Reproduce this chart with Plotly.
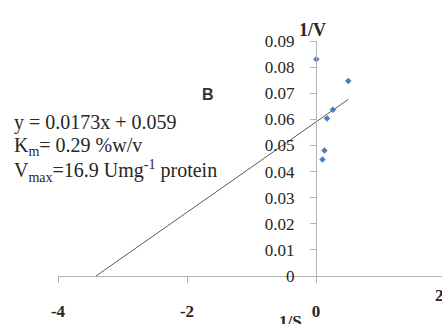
import plotly.graph_objects as go

# ---- data ----
inv_s = [0.005, 0.10, 0.13, 0.17, 0.26, 0.50]          # 1/S
inv_v = [0.083, 0.0446, 0.0481, 0.0603, 0.0637, 0.0747]  # 1/V
slope = 0.0173
intercept = 0.059
x_ticks = [-4, -2, 0, 2]
x_tick_text = ["-4", "-2", "0", "2"]
y_ticks = [0, 0.01, 0.02, 0.03, 0.04, 0.05, 0.06, 0.07, 0.08, 0.09]
eq_lines = [
    "y = 0.0173x + 0.059",
    "K<sub>m</sub>= 0.29 %w/v",
    "V<sub>max</sub>=16.9 Umg<sup>-1</sup> protein",
]

# trendline from the x-intercept to the last point
x0 = -intercept / slope
x1 = max(inv_s)
trend_x = [x0, x1]
trend_y = [slope * x + intercept for x in trend_x]

W, H = 442, 324
ML, MR, MT, MB = 58, 0, 41, 48
X_MIN, X_MAX = -4, 1.953
Y_MIN, Y_MAX = 0, 0.09
pw, ph = W - ML - MR, H - MT - MB

def px(xp, yp):
    return (xp - ML) / pw, (H - MB - yp) / ph

SERIF = "Liberation Serif, Times New Roman, serif"
TXT = "#262626"

fig = go.Figure()
fig.add_trace(go.Scatter(x=trend_x, y=trend_y, mode="lines",
                         line=dict(color="#595959", width=1), hoverinfo="skip"))
fig.add_trace(go.Scatter(x=inv_s, y=inv_v, mode="markers",
                         marker=dict(symbol="diamond", size=5, color="#4A7EBB")))

yaxis_pos = (0 - X_MIN) / (X_MAX - X_MIN)

fig.update_layout(
    width=W, height=H,
    margin=dict(l=ML, r=MR, t=MT, b=MB),
    paper_bgcolor="white", plot_bgcolor="white",
    showlegend=False,
    xaxis=dict(range=[X_MIN, X_MAX], tickvals=x_ticks, ticktext=x_tick_text,
               showgrid=False, zeroline=False,
               showline=True, linecolor="#b3b3b3", linewidth=1,
               ticks="outside", ticklen=6, tickcolor="#b3b3b3",
               ticklabelstandoff=14,
               tickfont=dict(family=SERIF, size=17, color=TXT, weight="bold")),
    yaxis=dict(range=[Y_MIN, Y_MAX], tickvals=y_ticks, showgrid=False, zeroline=False,
               showline=True, linecolor="#b3b3b3", linewidth=1,
               anchor="free", position=yaxis_pos,
               ticks="outside", ticklen=6, tickcolor="#b3b3b3",
               ticklabelstandoff=12,
               tickfont=dict(family=SERIF, size=17, color=TXT)),
)

ann = []
for t, yp in zip(eq_lines, [122, 146, 171]):
    ax_, ay_ = px(12, yp)
    ann.append(dict(text=t, x=ax_, y=ay_, xref="paper", yref="paper",
                    xanchor="left", yanchor="middle", showarrow=False,
                    font=dict(family=SERIF, size=20, color=TXT)))
bx, by = px(208, 84)
ann.append(dict(text="<b>B</b>", x=bx, y=by, xref="paper", yref="paper",
                showarrow=False, font=dict(family="Liberation Sans, Arial", size=16, color="#333333")))
vx, vy = px(328, 18)
ann.append(dict(text="<b>1/V</b>", x=vx, y=vy, xref="paper", yref="paper",
                showarrow=False, font=dict(family=SERIF, size=18, color=TXT)))
sx, sy = px(290, 310)
ann.append(dict(text="<b>1/S</b>", x=sx, y=sy, xref="paper", yref="paper",
                xanchor="center", yanchor="top",
                showarrow=False, font=dict(family=SERIF, size=17, color=TXT)))
tx, ty = px(446, 307)
ann.append(dict(text="<b>2</b>", x=tx, y=ty, xref="paper", yref="paper",
                showarrow=False, font=dict(family=SERIF, size=17, color=TXT)))
fig.update_layout(annotations=ann)

fig.write_html("out.html")
